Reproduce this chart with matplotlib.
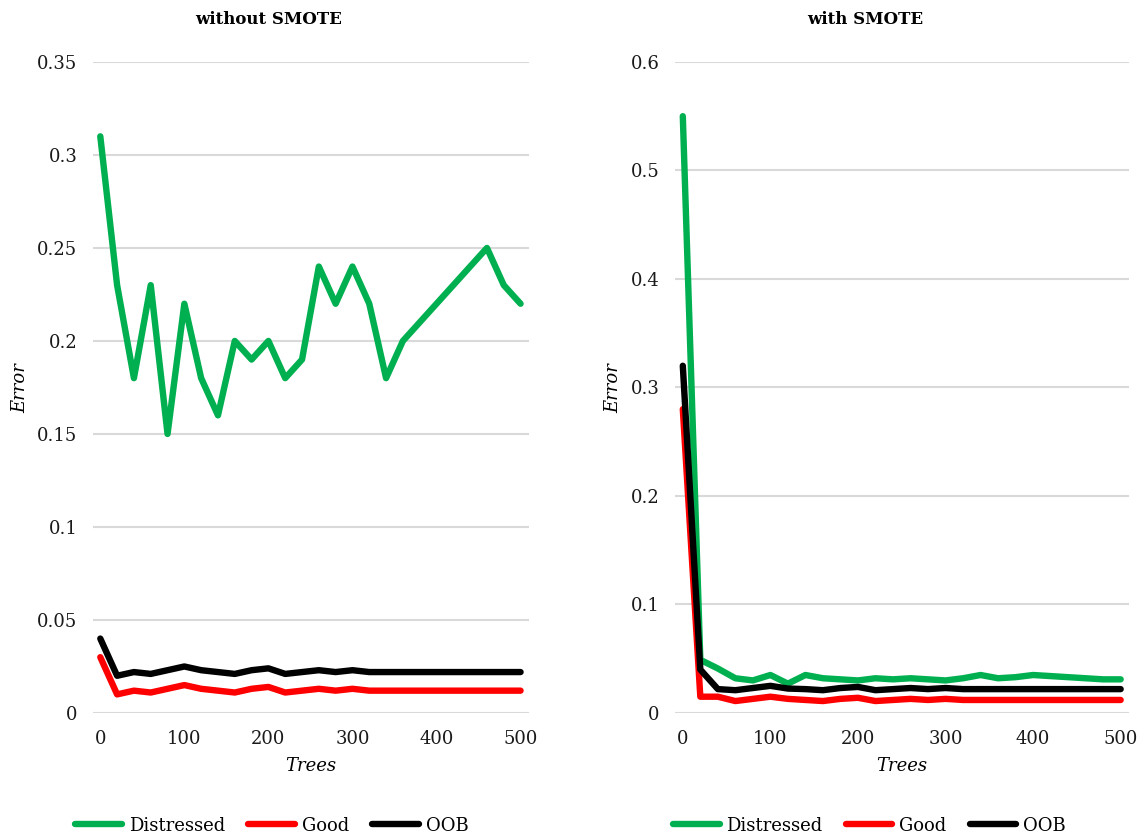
#!/usr/bin/env python3
"""
Error vs. number of trees, random forest with and without SMOTE
"""

import matplotlib
matplotlib.use('Agg')
import matplotlib.pyplot as plt
from matplotlib.lines import Line2D

plt.rcParams['font.family'] = ['DejaVu Serif']

trees = list(range(0, 501, 20))

# without SMOTE
distressed_raw = [0.31, 0.23, 0.18, 0.23, 0.15, 0.22, 0.18, 0.16, 0.20, 0.19,
                  0.20, 0.18, 0.19, 0.24, 0.22, 0.24, 0.22, 0.18, 0.20, 0.21,
                  0.22, 0.23, 0.24, 0.25, 0.23, 0.22]
good_raw = [0.030, 0.010, 0.012, 0.011, 0.013, 0.015, 0.013, 0.012, 0.011, 0.013,
            0.014, 0.011, 0.012, 0.013, 0.012, 0.013, 0.012, 0.012, 0.012, 0.012,
            0.012, 0.012, 0.012, 0.012, 0.012, 0.012]
oob_raw = [0.040, 0.020, 0.022, 0.021, 0.023, 0.025, 0.023, 0.022, 0.021, 0.023,
           0.024, 0.021, 0.022, 0.023, 0.022, 0.023, 0.022, 0.022, 0.022, 0.022,
           0.022, 0.022, 0.022, 0.022, 0.022, 0.022]

# with SMOTE
distressed_smote = [0.55, 0.049, 0.041, 0.032, 0.030, 0.035, 0.027, 0.035, 0.032, 0.031,
                    0.030, 0.032, 0.031, 0.032, 0.031, 0.030, 0.032, 0.035, 0.032, 0.033,
                    0.035, 0.034, 0.033, 0.032, 0.031, 0.031]
good_smote = [0.28, 0.015, 0.015, 0.011, 0.013, 0.015, 0.013, 0.012, 0.011, 0.013,
              0.014, 0.011, 0.012, 0.013, 0.012, 0.013, 0.012, 0.012, 0.012, 0.012,
              0.012, 0.012, 0.012, 0.012, 0.012, 0.012]
oob_smote = [0.32, 0.040, 0.022, 0.021, 0.023, 0.025, 0.0225, 0.022, 0.021, 0.023,
             0.024, 0.021, 0.022, 0.023, 0.022, 0.023, 0.022, 0.022, 0.022, 0.022,
             0.022, 0.022, 0.022, 0.022, 0.022, 0.022]

series_names = ['Distressed', 'Good', 'OOB']
colores = ['#00b050', '#ff0000', '#000000']

LW = 4.6
FS = 13


def draw_panel(fig, rect, series, ymax, yticks, ylabels, title, title_x, ylab_x):
    ax = fig.add_axes(rect)
    for vals, color in zip(series, colores):
        ax.plot(trees, vals, color=color, linewidth=LW, solid_joinstyle='round',
                solid_capstyle='round', zorder=3)

    ax.set_xlim(-9, 510)
    ax.set_ylim(0, ymax)
    ax.set_yticks(yticks)
    ax.set_yticklabels(ylabels)
    ax.set_xticks(range(0, 501, 100))
    ax.grid(True, axis='y', color='#d9d9d9', linewidth=1.5)
    ax.set_axisbelow(True)
    for s in ax.spines.values():
        s.set_visible(False)
    ax.tick_params(length=0, labelsize=FS, colors='#1a1a1a')
    ax.tick_params(axis='y', pad=11)
    ax.tick_params(axis='x', pad=12)

    fig.text(title_x, 0.977, title, ha='center', va='center',
             fontsize=12, fontweight='bold')
    fig.text(ylab_x, 0.537, 'Error', rotation=90, ha='center', va='center',
             fontsize=FS, style='italic')
    x0, y0, w, h = rect
    fig.text(x0 + w / 2, 0.087, 'Trees', ha='center', va='center',
             fontsize=FS, style='italic')

    handles = [Line2D([0], [0], color=c, linewidth=LW, solid_capstyle='round')
               for c in colores]
    fig.legend(handles, series_names, loc='center', bbox_to_anchor=(title_x + 0.003, 0.016),
               ncol=3, frameon=False, fontsize=FS, handlelength=2.6,
               handletextpad=0.35, columnspacing=1.3)
    return ax


fig = plt.figure(figsize=(11.42, 8.39), dpi=100)

draw_panel(fig, [0.0812, 0.1502, 0.382, 0.776],
           [distressed_raw, good_raw, oob_raw], 0.35,
           [0, 0.05, 0.1, 0.15, 0.2, 0.25, 0.3, 0.35],
           ['0', '0.05', '0.1', '0.15', '0.2', '0.25', '0.3', '0.35'],
           'without SMOTE', 0.235, 0.018)

draw_panel(fig, [0.591, 0.1502, 0.398, 0.776],
           [distressed_smote, good_smote, oob_smote], 0.6,
           [0, 0.1, 0.2, 0.3, 0.4, 0.5, 0.6],
           ['0', '0.1', '0.2', '0.3', '0.4', '0.5', '0.6'],
           'with SMOTE', 0.758, 0.537)

plt.savefig('out.png', dpi=100)
plt.close()
